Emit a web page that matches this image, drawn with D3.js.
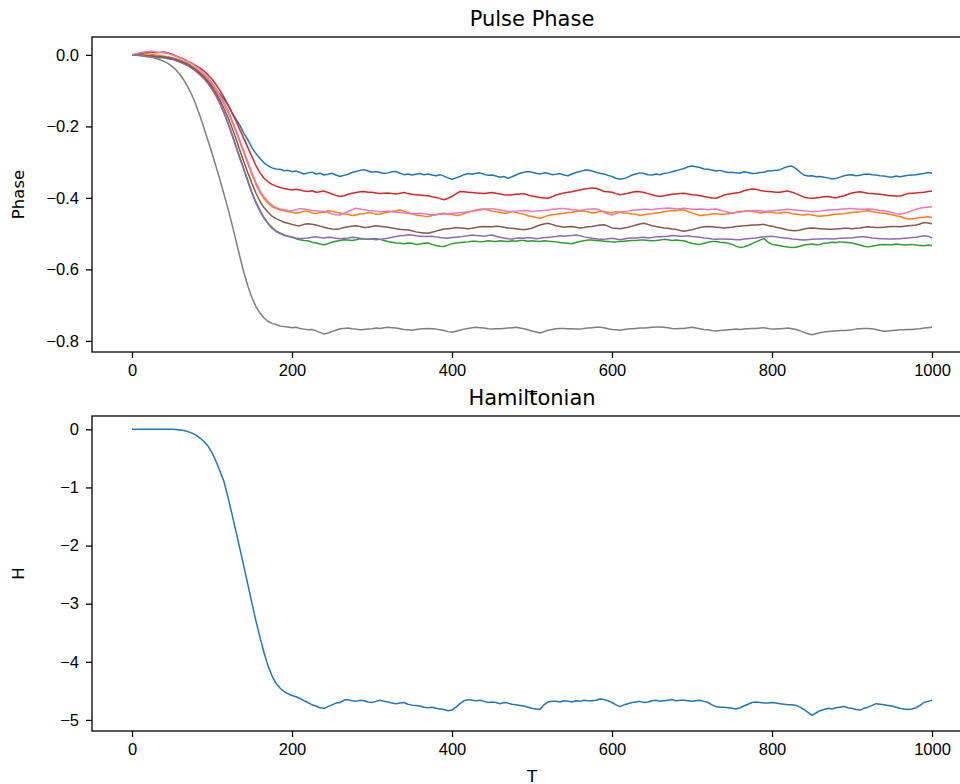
<!DOCTYPE html>
<html>
<head>
<meta charset="utf-8">
<script src="https://cdn.jsdelivr.net/npm/d3@7"></script>
<style>
  body { margin: 0; background: #fff; }
  svg { display: block; font-family: "DejaVu Sans", sans-serif; }
  .axis text { font-size: 16.5px; fill: #000; }
  .axis path, .axis line { stroke: #000; stroke-width: 1.3; }
</style>
</head>
<body>
<div id="chart"></div>
<script>
// sample times (every 5 steps)
var T = [0,5,10,15,20,25,30,35,40,45,50,55,60,65,70,75,80,85,90,95,100,
  105,110,115,120,125,130,135,140,145,150,155,160,165,170,175,180,185,190,195,200,
  205,210,215,220,225,230,235,240,245,250,255,260,265,270,275,280,285,290,295,300,
  305,310,315,320,325,330,335,340,345,350,355,360,365,370,375,380,385,390,395,400,
  405,410,415,420,425,430,435,440,445,450,455,460,465,470,475,480,485,490,495,500,
  505,510,515,520,525,530,535,540,545,550,555,560,565,570,575,580,585,590,595,600,
  605,610,615,620,625,630,635,640,645,650,655,660,665,670,675,680,685,690,695,700,
  705,710,715,720,725,730,735,740,745,750,755,760,765,770,775,780,785,790,795,800,
  805,810,815,820,825,830,835,840,845,850,855,860,865,870,875,880,885,890,895,900,
  905,910,915,920,925,930,935,940,945,950,955,960,965,970,975,980,985,990,995,1000];

// phase of each pulse
var phase0 = [0,0.002,0,-0.002,-0.003,-0.002,-0.006,-0.005,-0.008,-0.011,-0.012,-0.016,-0.02,-0.025,-0.03,-0.037,-0.045,-0.053,-0.062,-0.073,-0.085,
  -0.097,-0.11,-0.124,-0.14,-0.162,-0.18,-0.198,-0.22,-0.238,-0.26,-0.276,-0.29,-0.302,-0.31,-0.316,-0.319,-0.320,-0.324,-0.323,-0.327,
  -0.325,-0.329,-0.333,-0.330,-0.328,-0.333,-0.331,-0.336,-0.334,-0.331,-0.336,-0.340,-0.337,-0.334,-0.329,-0.326,-0.323,-0.321,-0.325,-0.328,
  -0.326,-0.329,-0.332,-0.330,-0.327,-0.326,-0.331,-0.335,-0.333,-0.336,-0.334,-0.332,-0.335,-0.333,-0.336,-0.338,-0.335,-0.339,-0.344,-0.348,
  -0.344,-0.340,-0.335,-0.332,-0.334,-0.331,-0.330,-0.334,-0.337,-0.336,-0.339,-0.342,-0.340,-0.345,-0.341,-0.336,-0.331,-0.328,-0.326,-0.328,
  -0.331,-0.333,-0.330,-0.331,-0.335,-0.334,-0.332,-0.336,-0.338,-0.333,-0.329,-0.326,-0.323,-0.322,-0.325,-0.328,-0.331,-0.333,-0.337,-0.340,
  -0.345,-0.348,-0.346,-0.342,-0.336,-0.333,-0.330,-0.332,-0.335,-0.336,-0.333,-0.335,-0.332,-0.330,-0.327,-0.324,-0.321,-0.318,-0.313,-0.311,
  -0.313,-0.315,-0.319,-0.320,-0.322,-0.325,-0.323,-0.326,-0.329,-0.328,-0.330,-0.331,-0.327,-0.329,-0.332,-0.331,-0.329,-0.328,-0.325,-0.324,
  -0.323,-0.321,-0.316,-0.312,-0.311,-0.318,-0.328,-0.336,-0.339,-0.338,-0.341,-0.340,-0.342,-0.344,-0.347,-0.346,-0.342,-0.338,-0.336,-0.335,
  -0.338,-0.337,-0.334,-0.333,-0.335,-0.336,-0.338,-0.339,-0.341,-0.342,-0.339,-0.341,-0.339,-0.337,-0.336,-0.335,-0.333,-0.332,-0.329,-0.331];
var phase1 = [0,0.001,0.002,0.004,0.003,0.001,0,-0.002,-0.004,-0.005,-0.008,-0.011,-0.014,-0.019,-0.024,-0.031,-0.038,-0.047,-0.058,-0.069,-0.082,
  -0.099,-0.118,-0.138,-0.16,-0.187,-0.215,-0.245,-0.275,-0.305,-0.335,-0.362,-0.385,-0.402,-0.415,-0.424,-0.43,-0.434,-0.436,-0.439,-0.44,
  -0.443,-0.441,-0.437,-0.438,-0.442,-0.444,-0.441,-0.440,-0.436,-0.437,-0.440,-0.442,-0.445,-0.446,-0.449,-0.448,-0.445,-0.444,-0.441,-0.442,
  -0.446,-0.445,-0.442,-0.440,-0.437,-0.436,-0.434,-0.437,-0.441,-0.445,-0.448,-0.449,-0.451,-0.452,-0.449,-0.447,-0.444,-0.443,-0.445,-0.446,
  -0.449,-0.448,-0.444,-0.441,-0.437,-0.434,-0.432,-0.431,-0.434,-0.437,-0.439,-0.440,-0.443,-0.442,-0.438,-0.440,-0.444,-0.446,-0.450,-0.452,
  -0.455,-0.457,-0.453,-0.449,-0.447,-0.446,-0.444,-0.443,-0.441,-0.440,-0.438,-0.436,-0.437,-0.439,-0.442,-0.441,-0.438,-0.438,-0.440,-0.442,
  -0.439,-0.440,-0.442,-0.443,-0.445,-0.446,-0.449,-0.447,-0.445,-0.444,-0.442,-0.441,-0.439,-0.437,-0.435,-0.436,-0.433,-0.434,-0.438,-0.442,
  -0.446,-0.449,-0.448,-0.447,-0.445,-0.444,-0.446,-0.446,-0.444,-0.443,-0.440,-0.438,-0.437,-0.436,-0.438,-0.439,-0.442,-0.441,-0.439,-0.440,
  -0.442,-0.443,-0.440,-0.441,-0.444,-0.445,-0.447,-0.448,-0.446,-0.448,-0.450,-0.451,-0.450,-0.449,-0.447,-0.446,-0.445,-0.444,-0.442,-0.441,
  -0.440,-0.439,-0.437,-0.436,-0.438,-0.440,-0.442,-0.443,-0.445,-0.447,-0.450,-0.452,-0.456,-0.459,-0.458,-0.457,-0.455,-0.454,-0.453,-0.455];
var phase2 = [0,0,-0.001,-0.002,-0.003,-0.004,-0.005,-0.006,-0.007,-0.009,-0.011,-0.015,-0.019,-0.024,-0.029,-0.036,-0.045,-0.055,-0.066,-0.079,-0.095,
  -0.114,-0.135,-0.161,-0.19,-0.222,-0.255,-0.288,-0.32,-0.353,-0.385,-0.412,-0.435,-0.455,-0.47,-0.483,-0.492,-0.498,-0.503,-0.507,-0.51,
  -0.514,-0.517,-0.519,-0.520,-0.524,-0.526,-0.529,-0.531,-0.528,-0.524,-0.521,-0.519,-0.517,-0.518,-0.519,-0.517,-0.514,-0.515,-0.516,-0.514,
  -0.514,-0.516,-0.519,-0.522,-0.524,-0.526,-0.527,-0.528,-0.526,-0.527,-0.530,-0.529,-0.527,-0.526,-0.530,-0.533,-0.535,-0.536,-0.532,-0.528,
  -0.526,-0.525,-0.524,-0.523,-0.521,-0.521,-0.523,-0.522,-0.520,-0.521,-0.522,-0.520,-0.521,-0.522,-0.520,-0.521,-0.519,-0.519,-0.521,-0.520,
  -0.521,-0.522,-0.520,-0.521,-0.522,-0.523,-0.525,-0.526,-0.527,-0.528,-0.525,-0.522,-0.520,-0.518,-0.518,-0.519,-0.520,-0.521,-0.522,-0.523,
  -0.523,-0.522,-0.521,-0.520,-0.519,-0.519,-0.518,-0.518,-0.519,-0.520,-0.519,-0.518,-0.516,-0.517,-0.519,-0.518,-0.519,-0.520,-0.524,-0.527,
  -0.529,-0.530,-0.527,-0.524,-0.522,-0.522,-0.524,-0.525,-0.527,-0.530,-0.535,-0.539,-0.537,-0.533,-0.528,-0.523,-0.518,-0.514,-0.524,-0.530,
  -0.532,-0.534,-0.536,-0.537,-0.539,-0.538,-0.535,-0.532,-0.530,-0.529,-0.531,-0.530,-0.527,-0.526,-0.524,-0.525,-0.523,-0.524,-0.525,-0.526,
  -0.529,-0.532,-0.535,-0.537,-0.535,-0.533,-0.531,-0.530,-0.531,-0.531,-0.529,-0.530,-0.532,-0.531,-0.530,-0.532,-0.533,-0.534,-0.532,-0.533];
var phase3 = [0,0.002,0.004,0.007,0.008,0.007,0.006,0.007,0.008,0.005,0.002,-0.003,-0.008,-0.012,-0.018,-0.023,-0.03,-0.037,-0.045,-0.056,-0.068,
  -0.083,-0.1,-0.119,-0.14,-0.162,-0.185,-0.21,-0.235,-0.26,-0.285,-0.31,-0.33,-0.345,-0.355,-0.362,-0.367,-0.371,-0.374,-0.376,-0.378,
  -0.376,-0.378,-0.381,-0.382,-0.380,-0.384,-0.383,-0.381,-0.385,-0.389,-0.393,-0.396,-0.394,-0.390,-0.387,-0.385,-0.383,-0.382,-0.384,-0.384,
  -0.386,-0.388,-0.387,-0.386,-0.388,-0.389,-0.387,-0.385,-0.388,-0.390,-0.391,-0.392,-0.393,-0.394,-0.397,-0.399,-0.402,-0.405,-0.401,-0.396,
  -0.389,-0.382,-0.383,-0.384,-0.385,-0.386,-0.387,-0.388,-0.386,-0.385,-0.387,-0.389,-0.391,-0.392,-0.391,-0.390,-0.389,-0.388,-0.392,-0.395,
  -0.397,-0.399,-0.400,-0.401,-0.397,-0.392,-0.389,-0.386,-0.384,-0.383,-0.380,-0.378,-0.375,-0.374,-0.372,-0.373,-0.377,-0.382,-0.383,-0.384,
  -0.388,-0.391,-0.389,-0.387,-0.384,-0.382,-0.383,-0.385,-0.388,-0.391,-0.394,-0.396,-0.394,-0.392,-0.390,-0.389,-0.388,-0.387,-0.389,-0.391,
  -0.392,-0.394,-0.396,-0.398,-0.400,-0.401,-0.397,-0.392,-0.390,-0.388,-0.386,-0.384,-0.380,-0.377,-0.375,-0.376,-0.379,-0.381,-0.382,-0.383,
  -0.384,-0.384,-0.382,-0.381,-0.384,-0.388,-0.393,-0.398,-0.400,-0.401,-0.400,-0.399,-0.397,-0.396,-0.398,-0.400,-0.397,-0.394,-0.390,-0.386,
  -0.384,-0.383,-0.385,-0.387,-0.388,-0.389,-0.390,-0.391,-0.393,-0.394,-0.395,-0.395,-0.391,-0.388,-0.387,-0.386,-0.385,-0.384,-0.382,-0.381];
var phase4 = [0,-0.001,-0.002,-0.004,-0.005,-0.006,-0.008,-0.009,-0.007,-0.009,-0.012,-0.016,-0.02,-0.025,-0.03,-0.037,-0.046,-0.056,-0.067,-0.08,-0.096,
  -0.115,-0.137,-0.163,-0.192,-0.225,-0.258,-0.291,-0.323,-0.356,-0.388,-0.415,-0.438,-0.457,-0.472,-0.485,-0.494,-0.500,-0.505,-0.507,-0.509,
  -0.512,-0.514,-0.513,-0.512,-0.510,-0.509,-0.511,-0.512,-0.510,-0.511,-0.513,-0.514,-0.513,-0.512,-0.510,-0.511,-0.513,-0.514,-0.516,-0.515,
  -0.517,-0.516,-0.514,-0.513,-0.510,-0.508,-0.506,-0.505,-0.503,-0.504,-0.506,-0.507,-0.508,-0.508,-0.507,-0.509,-0.511,-0.512,-0.513,-0.511,
  -0.510,-0.509,-0.507,-0.506,-0.504,-0.505,-0.506,-0.507,-0.505,-0.504,-0.507,-0.510,-0.512,-0.514,-0.515,-0.513,-0.512,-0.513,-0.511,-0.512,
  -0.514,-0.513,-0.511,-0.511,-0.509,-0.508,-0.506,-0.507,-0.506,-0.505,-0.504,-0.506,-0.509,-0.511,-0.513,-0.514,-0.516,-0.516,-0.514,-0.513,
  -0.515,-0.517,-0.515,-0.513,-0.512,-0.512,-0.511,-0.510,-0.512,-0.511,-0.509,-0.509,-0.508,-0.507,-0.505,-0.506,-0.507,-0.507,-0.506,-0.508,
  -0.509,-0.510,-0.512,-0.513,-0.515,-0.516,-0.515,-0.515,-0.516,-0.516,-0.517,-0.517,-0.515,-0.514,-0.513,-0.512,-0.510,-0.509,-0.508,-0.507,
  -0.509,-0.511,-0.512,-0.513,-0.515,-0.516,-0.517,-0.518,-0.517,-0.516,-0.515,-0.515,-0.514,-0.514,-0.515,-0.514,-0.513,-0.513,-0.512,-0.512,
  -0.510,-0.509,-0.509,-0.510,-0.512,-0.513,-0.514,-0.514,-0.515,-0.515,-0.514,-0.514,-0.513,-0.512,-0.511,-0.510,-0.508,-0.506,-0.507,-0.512];
var phase5 = [0,0,-0.001,-0.001,-0.002,-0.003,-0.004,-0.005,-0.006,-0.008,-0.01,-0.013,-0.017,-0.021,-0.027,-0.034,-0.042,-0.051,-0.062,-0.075,-0.09,
  -0.107,-0.127,-0.15,-0.175,-0.204,-0.235,-0.268,-0.30,-0.331,-0.36,-0.387,-0.41,-0.427,-0.44,-0.451,-0.458,-0.463,-0.468,-0.471,-0.474,
  -0.477,-0.478,-0.474,-0.472,-0.474,-0.476,-0.479,-0.482,-0.485,-0.487,-0.488,-0.486,-0.483,-0.481,-0.479,-0.478,-0.480,-0.483,-0.482,-0.480,
  -0.478,-0.479,-0.481,-0.482,-0.484,-0.486,-0.488,-0.489,-0.490,-0.492,-0.495,-0.497,-0.498,-0.499,-0.496,-0.493,-0.490,-0.487,-0.486,-0.485,
  -0.483,-0.484,-0.485,-0.486,-0.485,-0.483,-0.481,-0.480,-0.481,-0.481,-0.479,-0.480,-0.482,-0.484,-0.485,-0.486,-0.488,-0.489,-0.487,-0.485,
  -0.480,-0.476,-0.473,-0.471,-0.474,-0.478,-0.480,-0.482,-0.481,-0.480,-0.482,-0.484,-0.483,-0.481,-0.480,-0.478,-0.476,-0.475,-0.479,-0.484,
  -0.485,-0.486,-0.484,-0.482,-0.479,-0.476,-0.473,-0.471,-0.474,-0.478,-0.480,-0.482,-0.484,-0.485,-0.487,-0.488,-0.491,-0.493,-0.491,-0.489,
  -0.486,-0.483,-0.481,-0.480,-0.481,-0.482,-0.483,-0.484,-0.483,-0.482,-0.480,-0.479,-0.478,-0.477,-0.476,-0.476,-0.475,-0.474,-0.477,-0.479,
  -0.482,-0.484,-0.487,-0.490,-0.491,-0.492,-0.490,-0.487,-0.485,-0.484,-0.485,-0.486,-0.487,-0.488,-0.488,-0.487,-0.486,-0.485,-0.485,-0.486,
  -0.485,-0.484,-0.482,-0.481,-0.482,-0.483,-0.483,-0.482,-0.481,-0.480,-0.480,-0.481,-0.479,-0.478,-0.477,-0.476,-0.473,-0.469,-0.470,-0.472];
var phase6 = [0,0.003,0.006,0.008,0.009,0.010,0.008,0.007,0.006,0.004,0,-0.004,-0.008,-0.013,-0.018,-0.024,-0.032,-0.041,-0.052,-0.064,-0.078,
  -0.094,-0.113,-0.133,-0.155,-0.182,-0.21,-0.24,-0.27,-0.30,-0.33,-0.357,-0.38,-0.397,-0.41,-0.42,-0.427,-0.431,-0.433,-0.435,-0.436,
  -0.433,-0.430,-0.431,-0.433,-0.435,-0.436,-0.437,-0.438,-0.441,-0.445,-0.447,-0.448,-0.443,-0.438,-0.433,-0.429,-0.431,-0.433,-0.435,-0.436,
  -0.437,-0.439,-0.438,-0.437,-0.439,-0.440,-0.441,-0.442,-0.443,-0.444,-0.444,-0.443,-0.444,-0.446,-0.447,-0.447,-0.446,-0.445,-0.444,-0.443,
  -0.442,-0.441,-0.440,-0.439,-0.437,-0.436,-0.434,-0.432,-0.431,-0.430,-0.432,-0.434,-0.436,-0.438,-0.438,-0.437,-0.436,-0.435,-0.436,-0.438,
  -0.437,-0.436,-0.435,-0.434,-0.432,-0.431,-0.430,-0.430,-0.431,-0.433,-0.434,-0.435,-0.433,-0.432,-0.431,-0.431,-0.434,-0.440,-0.445,-0.448,
  -0.444,-0.440,-0.438,-0.437,-0.435,-0.434,-0.433,-0.432,-0.432,-0.433,-0.431,-0.430,-0.429,-0.428,-0.429,-0.431,-0.430,-0.429,-0.430,-0.432,
  -0.432,-0.431,-0.432,-0.433,-0.432,-0.431,-0.434,-0.437,-0.440,-0.443,-0.441,-0.440,-0.438,-0.437,-0.436,-0.435,-0.436,-0.438,-0.437,-0.436,
  -0.435,-0.434,-0.433,-0.432,-0.433,-0.434,-0.435,-0.436,-0.437,-0.438,-0.438,-0.437,-0.435,-0.434,-0.433,-0.433,-0.432,-0.431,-0.430,-0.430,
  -0.431,-0.432,-0.432,-0.431,-0.432,-0.433,-0.435,-0.436,-0.438,-0.441,-0.444,-0.446,-0.443,-0.440,-0.436,-0.432,-0.429,-0.427,-0.426,-0.425];
var phase7 = [0,-0.001,-0.002,-0.003,-0.005,-0.007,-0.01,-0.014,-0.018,-0.024,-0.032,-0.042,-0.055,-0.071,-0.09,-0.113,-0.14,-0.171,-0.205,-0.24,-0.275,
  -0.312,-0.35,-0.39,-0.43,-0.474,-0.52,-0.566,-0.61,-0.648,-0.68,-0.704,-0.722,-0.736,-0.745,-0.751,-0.754,-0.758,-0.760,-0.761,-0.763,
  -0.762,-0.765,-0.767,-0.769,-0.768,-0.772,-0.776,-0.781,-0.778,-0.774,-0.770,-0.766,-0.765,-0.764,-0.766,-0.767,-0.769,-0.768,-0.767,-0.766,
  -0.764,-0.765,-0.763,-0.762,-0.763,-0.764,-0.766,-0.768,-0.769,-0.770,-0.768,-0.767,-0.766,-0.765,-0.766,-0.767,-0.769,-0.771,-0.774,-0.776,
  -0.773,-0.770,-0.767,-0.765,-0.763,-0.762,-0.763,-0.764,-0.766,-0.767,-0.766,-0.766,-0.765,-0.764,-0.763,-0.762,-0.764,-0.766,-0.769,-0.772,
  -0.775,-0.778,-0.774,-0.770,-0.768,-0.766,-0.765,-0.765,-0.766,-0.766,-0.767,-0.767,-0.765,-0.764,-0.763,-0.762,-0.762,-0.763,-0.766,-0.768,
  -0.769,-0.770,-0.768,-0.767,-0.766,-0.765,-0.764,-0.764,-0.763,-0.762,-0.761,-0.761,-0.762,-0.763,-0.765,-0.766,-0.765,-0.765,-0.763,-0.762,
  -0.764,-0.766,-0.768,-0.769,-0.771,-0.772,-0.771,-0.770,-0.769,-0.768,-0.767,-0.768,-0.767,-0.766,-0.765,-0.765,-0.764,-0.763,-0.765,-0.767,
  -0.767,-0.766,-0.765,-0.764,-0.766,-0.768,-0.772,-0.776,-0.780,-0.783,-0.780,-0.777,-0.775,-0.774,-0.773,-0.772,-0.771,-0.771,-0.770,-0.769,
  -0.767,-0.766,-0.765,-0.765,-0.766,-0.768,-0.771,-0.773,-0.772,-0.771,-0.770,-0.769,-0.769,-0.768,-0.768,-0.767,-0.766,-0.764,-0.763,-0.762];

// hamiltonian
var hamil = [0,0,0,0,0,0,0,0,0,0,0,-0.005,-0.012,-0.022,-0.04,-0.065,-0.1,-0.15,-0.21,-0.29,-0.40,
  -0.55,-0.72,-0.9,-1.17,-1.46,-1.76,-2.06,-2.37,-2.68,-3.0,-3.3,-3.58,-3.84,-4.07,-4.24,-4.37,-4.45,-4.51,-4.55,-4.58,
  -4.60,-4.63,-4.67,-4.70,-4.74,-4.76,-4.79,-4.80,-4.77,-4.74,-4.71,-4.70,-4.66,-4.65,-4.67,-4.68,-4.66,-4.67,-4.69,-4.70,
  -4.68,-4.66,-4.68,-4.69,-4.71,-4.72,-4.71,-4.70,-4.73,-4.745,-4.75,-4.76,-4.78,-4.79,-4.78,-4.80,-4.81,-4.82,-4.84,-4.83,
  -4.78,-4.72,-4.67,-4.65,-4.66,-4.67,-4.66,-4.68,-4.70,-4.69,-4.70,-4.72,-4.70,-4.71,-4.73,-4.74,-4.75,-4.76,-4.78,-4.80,
  -4.81,-4.82,-4.74,-4.69,-4.68,-4.68,-4.69,-4.67,-4.68,-4.69,-4.67,-4.68,-4.66,-4.67,-4.67,-4.66,-4.64,-4.65,-4.67,-4.70,
  -4.74,-4.77,-4.74,-4.72,-4.70,-4.69,-4.68,-4.70,-4.69,-4.67,-4.66,-4.68,-4.67,-4.66,-4.65,-4.67,-4.66,-4.66,-4.67,-4.68,
  -4.67,-4.66,-4.68,-4.70,-4.74,-4.77,-4.78,-4.78,-4.79,-4.80,-4.81,-4.79,-4.76,-4.73,-4.70,-4.69,-4.70,-4.71,-4.71,-4.70,
  -4.71,-4.72,-4.73,-4.74,-4.74,-4.75,-4.78,-4.82,-4.87,-4.92,-4.88,-4.84,-4.82,-4.80,-4.81,-4.79,-4.78,-4.77,-4.79,-4.80,
  -4.82,-4.83,-4.80,-4.78,-4.75,-4.72,-4.73,-4.74,-4.75,-4.76,-4.78,-4.80,-4.81,-4.82,-4.81,-4.79,-4.75,-4.70,-4.68,-4.66];

var phaseSeries = [phase0, phase1, phase2, phase3, phase4, phase5, phase6, phase7];
var colors = ["#1f77b4","#ff7f0e","#2ca02c","#d62728","#9467bd","#8c564b","#e377c2","#7f7f7f"];

var xTicks = [0, 200, 400, 600, 800, 1000];
var phaseTicks = [0, -0.2, -0.4, -0.6, -0.8];
var hTicks = [0, -1, -2, -3, -4, -5];

var W = 960, H = 784;
var svg = d3.select("#chart").append("svg")
    .attr("width", W)
    .attr("height", H);

var minus = function(s) { return s.replace("-", "\u2212"); };

function panel(box, values, yDomain, yTicks, yFmt, title, ylabel) {
  var x = d3.scaleLinear().domain([-50, 1050]).range([box.left, box.right]);
  var y = d3.scaleLinear().domain(yDomain).range([box.bottom, box.top]);

  var g = svg.append("g");

  // lines first, frame goes over them
  var line = d3.line()
    .defined(function(d, i) { return d != null && T[i] != null; })
    .x(function(d, i) { return x(T[i]); })
    .y(function(d) { return y(d); });

  values.forEach(function(v, k) {
    g.append("path")
      .datum(v)
      .attr("fill", "none")
      .attr("stroke", colors[k])
      .attr("stroke-width", 1.5)
      .attr("stroke-linejoin", "round")
      .attr("d", line);
  });

  var xa = g.append("g").attr("class", "axis")
    .attr("transform", "translate(0," + box.bottom + ")")
    .call(d3.axisBottom(x).tickValues(xTicks).tickSize(6).tickPadding(6).tickFormat(d3.format("d")));
  xa.select(".domain").remove();

  var ya = g.append("g").attr("class", "axis")
    .attr("transform", "translate(" + box.left + ",0)")
    .call(d3.axisLeft(y).tickValues(yTicks).tickSize(6).tickPadding(7)
      .tickFormat(function(d) { return minus(yFmt(d)); }));
  ya.select(".domain").remove();

  // frame
  g.append("rect")
    .attr("x", box.left).attr("y", box.top)
    .attr("width", box.right - box.left).attr("height", box.bottom - box.top)
    .attr("fill", "none").attr("stroke", "#000").attr("stroke-width", 1.3);

  g.append("text")
    .attr("x", (box.left + box.right) / 2).attr("y", box.top - 11)
    .attr("text-anchor", "middle").style("font-size", "21px")
    .text(title);

  g.append("text")
    .attr("x", (box.left + box.right) / 2).attr("y", box.bottom + 51)
    .attr("text-anchor", "middle").style("font-size", "16.5px")
    .text("T");

  g.append("text")
    .attr("transform", "translate(24," + (box.top + box.bottom) / 2 + ") rotate(-90)")
    .attr("text-anchor", "middle").style("font-size", "16.5px")
    .text(ylabel);
}

panel({left: 92, right: 972, top: 37, bottom: 352}, phaseSeries,
  [-0.831, 0.050], phaseTicks, d3.format(".1f"), "Pulse Phase", "Phase");

panel({left: 92, right: 972, top: 416, bottom: 731}, [hamil],
  [-5.19, 0.229], hTicks, d3.format("d"), "Hamiltonian", "H");
</script>
</body>
</html>
